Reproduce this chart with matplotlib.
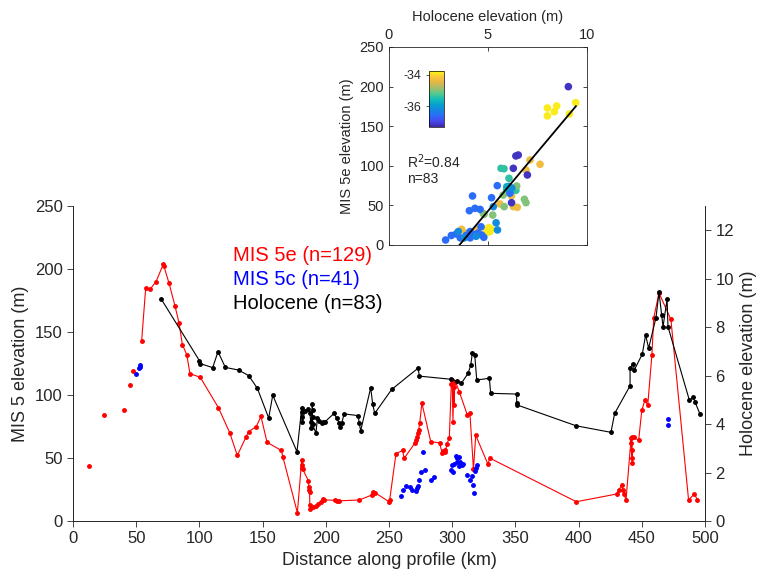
import numpy as np
import matplotlib
matplotlib.use('Agg')
import matplotlib.pyplot as plt
from matplotlib.colors import LinearSegmentedColormap

plt.rcParams['font.family'] = ['Liberation Sans', 'DejaVu Sans']
plt.rcParams['axes.unicode_minus'] = False

# MIS 5e points without a connecting line
mis5e_iso_x = [12.7, 24.3, 40.0, 44.8, 47.2]
mis5e_iso_y = [43.6, 84.0, 88.0, 107.7, 119.0]

# MIS 5e profile (km, m)
mis5e_x = [54.3, 57.5, 61.0, 65.7, 71.5, 72.0, 76.0, 80.7, 83.9, 86.5, 90.0, 92.5,
           100.7, 115.0, 124.0, 130.0, 137.0, 139.0, 145.0, 148.7, 153.5, 164.8, 166.0,
           177.5, 180.9, 181.2, 181.5, 181.8, 186.2, 186.6, 186.9, 187.2, 187.3, 187.6,
           190.0, 192.2, 194.0, 195.9, 197.5, 198.6, 207.3, 208.6, 210.7, 226.5,
           236.3, 237.6, 238.9, 250.0, 250.5, 255.5, 260.8, 262.0, 270.3, 271.3, 272.0,
           272.8, 273.4, 274.3, 276.0, 283.0, 290.0, 292.0, 293.0, 294.0, 294.6, 295.9,
           297.7, 299.3, 300.0, 300.6, 301.2, 301.6, 302.0, 302.5, 305.6, 312.0, 314.0,
           316.8, 318.6, 328.3, 329.6, 398.2, 430.0, 432.0, 434.0, 435.0, 436.0, 437.5,
           441.5, 441.8, 442.0, 442.3, 442.6, 442.0, 443.5, 447.5, 450.0, 452.5, 454.7,
           458.0, 459.4, 463.6, 473.0, 487.0, 491.5, 494.0]
mis5e_y = [143, 185, 184, 190, 204, 202, 188.6, 170.6, 157, 140, 132, 117,
           114, 90, 70, 52, 67, 71, 75, 83, 62.5, 56, 51,
           6.6, 48.4, 44.4, 41.8, 41, 32, 27.2, 24.6, 23.3, 12.7, 9.8,
           10.9, 11.9, 13.5, 15.3, 17.2, 16.7, 16.5, 16, 16, 16.7,
           20.6, 23.3, 22.5, 15.3, 16.5, 53.4, 56, 49.7, 61.7, 64, 67,
           70, 72, 77.8, 93.6, 63, 62, 54, 55.5, 56, 55, 61.4,
           66, 109, 112, 78.8, 106, 92, 110.6, 110.7, 102.6, 84, 86,
           41, 68, 45, 50, 15.3, 21.4, 24.6, 28.6, 24.6, 21.4, 16.7,
           65.6, 61.7, 56, 50, 46, 67, 67, 64, 88, 96, 92,
           132, 161, 181, 160, 16.7, 21.4, 17]

# MIS 5c points (km, m)
mis5c_x = [49.6, 52.2, 52.8, 53.2, 259.7, 260.8, 263.7, 266.5, 268.0, 271.5, 272.2,
           273.0, 274.0, 275.0, 276.6, 278.5, 283.2, 285.6, 298.8, 300.4, 299.6,
           301.4, 303.0, 304.0, 305.0, 303.6, 305.0, 306.0, 307.4, 308.2, 312.0,
           314.0, 316.0, 316.7, 317.2, 318.0, 319.0, 319.7, 471.0, 471.0]
mis5c_y = [117, 121.7, 122.5, 123.6, 20, 24.6, 27.8, 27, 24.6, 24, 26,
           28, 32.3, 38.9, 55, 40.7, 32.5, 35.2, 40.5, 39.1, 44.4,
           45.2, 51.9, 49.8, 50.5, 46.6, 44, 46.6, 44.4, 45.2, 36.5,
           32.5, 35.7, 28.6, 22.5, 39.9, 41.7, 44.7, 81, 76]

# Holocene profile (km, m)
hol_x = [69.9, 100.0, 100.5, 110.5, 114.7, 120.5, 131.0, 139.0, 145.8, 154.8, 158.0,
         177.2, 180.9, 180.9, 181.2, 181.5, 183.5, 186.2, 187.5, 188.0, 188.5, 189.3,
         189.5, 189.5, 189.5, 192.2, 193.3, 194.9, 196.8, 198.0, 199.4, 206.5, 208.6,
         210.7, 211.2, 212.6, 214.4, 225.7, 226.3, 227.6, 235.5, 237.1, 238.7, 252.1,
         273.0, 274.0, 299.0, 303.5, 307.2, 312.5, 314.6, 315.9, 317.8, 319.4, 329.4,
         330.4, 351.0, 351.0, 351.3, 398.0, 425.6, 428.5, 440.7, 440.7, 443.3, 444.0,
         450.4, 453.0, 455.4, 461.2, 463.6, 465.7, 466.8, 470.0, 470.7, 487.6, 490.7,
         492.0, 496.0]
hol_y = [9.15, 6.62, 6.5, 6.33, 6.99, 6.34, 6.23, 6.0, 5.48, 4.25, 5.19,
         2.86, 4.65, 4.51, 4.3, 4.1, 4.55, 4.61, 4.44, 4.1, 3.83, 4.82,
         4.6, 4.3, 4.0, 3.62, 4.24, 4.14, 4.06, 4.1, 4.1, 4.44, 4.24,
         4.03, 3.89, 4.03, 4.42, 4.35, 4.06, 3.73, 5.5, 4.82, 4.44, 5.43,
         6.31, 5.98, 5.85, 5.78, 5.68, 6.09, 6.42, 6.92, 6.87, 5.82, 5.89,
         5.27, 5.24, 4.88, 4.79, 3.93, 3.66, 4.44, 5.58, 6.33, 6.48, 6.23,
         6.89, 7.68, 7.13, 8.39, 9.45, 8.5, 8.02, 9.16, 8.02, 4.99, 5.1,
         4.92, 4.42]

# inset: Holocene vs MIS 5e elevation, coloured by latitude
sc_hol = [8.0, 8.47, 8.35, 8.0, 9.43, 9.11, 4.93, 5.0, 5.1, 5.05, 4.98, 5.15,
          3.89,
          3.67, 4.43, 7.12, 7.63, 6.92, 6.19, 5.6, 6.28, 6.48,
          9.06, 6.53, 6.41, 6.28, 6.99, 6.19,
          5.66, 5.81, 6.06, 6.41, 5.94,
          6.45, 5.77, 6.84, 6.92, 5.82, 4.76, 5.24, 4.8,
          2.86, 4.22, 4.06, 4.34, 4.6, 5.47, 5.18, 6.11, 4.68, 3.15, 3.4, 3.6, 3.9,
          4.1, 4.3, 4.5, 4.1, 4.79, 4.65,
          6.05, 6.2, 5.27, 5.41, 5.48, 3.5, 4.4, 3.8,
          5.95]
sc_5e = [173, 175.5, 168.3, 163, 179.7, 165.4, 18.9, 20.5, 17, 22, 16, 20,
         14.8,
         19.8, 19.8, 107.3, 101.9, 94.7, 61.9, 51.8, 48.4, 47.6,
         199.9, 113.6, 112.4, 96.8, 88.4, 53.4,
         96.8, 96.3, 84.2, 69, 69.4,
         74.5, 63.1, 57.7, 53.4, 48.4, 40, 37.8, 38.7,
         6.3, 61.9, 43.3, 46.3, 45, 74.9, 59.7, 65.3, 12.6, 12, 14, 9, 12,
         9, 13, 15, 17, 9.7, 23,
         74, 72, 48.4, 28, 19, 17, 11, 9,
         73.5]
sc_lat = [-33.85] * 12 + [-34.7] + [-34.3] * 9 + [-37.2] * 6 + [-35.4] * 5 + \
         [-35.0] * 8 + [-36.6] * 19 + [-36.2] * 8 + [-35.8]

fit_slope = 29.8
fit_intercept = -106.1
fit_x = [3.56, 9.44]

# parula-like colormap
parula = LinearSegmentedColormap.from_list('parula', [
    (0.242, 0.150, 0.660), (0.280, 0.278, 0.922), (0.170, 0.420, 0.980),
    (0.080, 0.525, 0.875), (0.024, 0.629, 0.804), (0.080, 0.740, 0.720),
    (0.340, 0.785, 0.545), (0.650, 0.745, 0.420), (0.895, 0.710, 0.270),
    (0.985, 0.780, 0.230), (0.976, 0.983, 0.054)])

axis_col = '#262626'

fig = plt.figure(figsize=(7.63, 5.8), dpi=100)
ax = fig.add_axes([0.0957, 0.1017, 0.8283, 0.5431])

ax.plot(mis5e_x, mis5e_y, '.-', color='red', lw=0.8, ms=5)
ax.plot(mis5e_iso_x, mis5e_iso_y, '.', color='red', ms=5)
ax.plot(mis5c_x, mis5c_y, '.', color='blue', ms=5)

ax.set_xlim(0, 500)
ax.set_ylim(0, 250)
ax.set_xticks(np.arange(0, 501, 50))
ax.set_yticks(np.arange(0, 251, 50))
ax.set_xlabel('Distance along profile (km)', fontsize=13, color=axis_col)
ax.set_ylabel('MIS 5 elevation (m)', fontsize=13, color=axis_col)
ax.spines['top'].set_visible(False)
for s in ax.spines.values():
    s.set_color(axis_col)
    s.set_linewidth(0.6)
ax.tick_params(direction='out', length=4, width=0.6, labelsize=12,
               colors=axis_col)

ax2 = ax.twinx()
ax2.plot(hol_x, hol_y, '.-', color='black', lw=0.8, ms=5)
ax2.set_ylim(0, 13)
ax2.set_yticks(np.arange(0, 13, 2))
ax2.set_ylabel('Holocene elevation (m)', fontsize=13, color=axis_col)
ax2.spines['top'].set_visible(False)
for s in ax2.spines.values():
    s.set_color(axis_col)
    s.set_linewidth(0.6)
ax2.tick_params(direction='out', length=4, width=0.6, labelsize=12,
                colors=axis_col)

ax.text(126.6, 210.5, 'MIS 5e (n=129)', color='red', fontsize=14.5, va='center')
ax.text(126.6, 191.5, 'MIS 5c (n=41)', color='blue', fontsize=14.5, va='center')
ax.text(126.6, 172.5, 'Holocene (n=83)', color='black', fontsize=14.5, va='center')

# inset
axi = fig.add_axes([0.5098, 0.5776, 0.2595, 0.3414])
sc = axi.scatter(sc_hol, sc_5e, c=sc_lat, cmap=parula, vmin=-37.35, vmax=-33.75,
                 s=30, edgecolors='none', zorder=2)
fx = np.array(fit_x)
axi.plot(fx, fit_slope * fx + fit_intercept, color='black', lw=1.3, zorder=3)
axi.set_xlim(0, 10)
axi.set_ylim(0, 250)
axi.set_xticks([0, 5, 10])
axi.set_yticks(np.arange(0, 251, 50))
axi.xaxis.set_label_position('top')
axi.set_xlabel('Holocene elevation (m)', fontsize=10.5, color=axis_col, labelpad=5)
axi.set_ylabel('MIS 5e elevation (m)', fontsize=10.5, color=axis_col)
axi.tick_params(direction='in', length=3, width=0.6, labelsize=10.5, colors=axis_col,
                top=True, bottom=True, left=True, right=True,
                labeltop=True, labelbottom=False)
for s in axi.spines.values():
    s.set_color(axis_col)
    s.set_linewidth(0.6)
axi.text(0.9, 105, 'R$^2$=0.84', fontsize=10, va='center', color=axis_col)
axi.text(0.9, 83, 'n=83', fontsize=10, va='center', color=axis_col)

cax = fig.add_axes([0.5623, 0.781, 0.0197, 0.0966])
cb = fig.colorbar(sc, cax=cax, ticks=[-36, -34])
cax.yaxis.set_ticks_position('left')
cax.tick_params(labelsize=9, length=2, width=0.5, colors=axis_col)
cb.outline.set_linewidth(0.5)

fig.savefig('out.png', dpi=100)
